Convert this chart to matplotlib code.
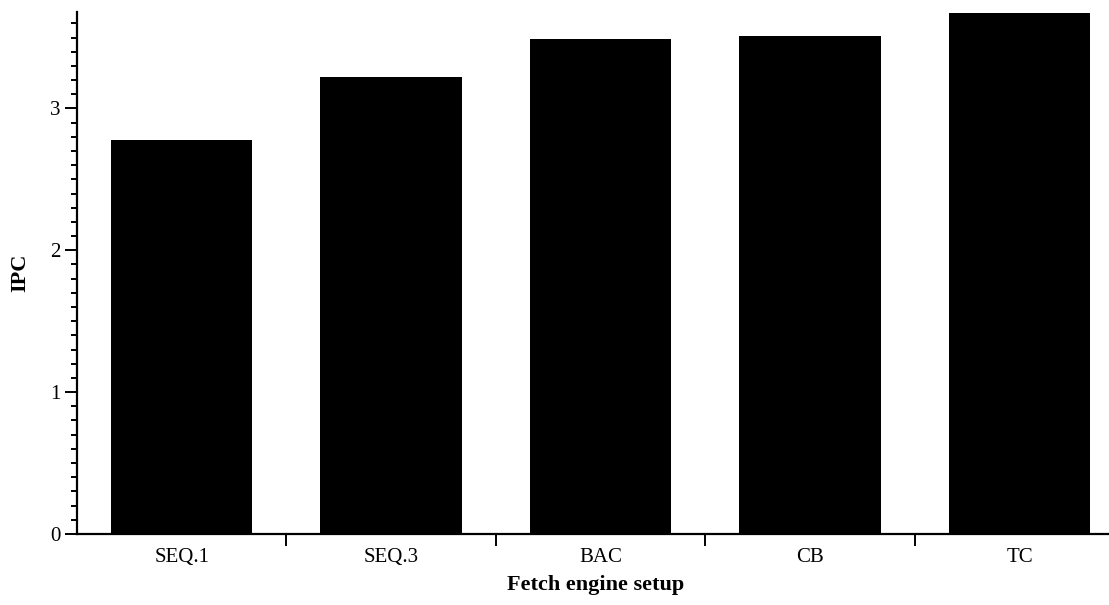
import matplotlib
matplotlib.use("Agg")
import matplotlib.pyplot as plt
from matplotlib.ticker import MultipleLocator, FixedLocator

# data
setups = ["SEQ.1", "SEQ.3", "BAC", "CB", "TC"]
ipc = [2.78, 3.22, 3.49, 3.51, 3.67]

plt.rcParams['font.family'] = ['Liberation Serif', 'DejaVu Serif']

fig = plt.figure(figsize=(11.09, 6.05), dpi=100)
ax = fig.add_axes([0.0694, 0.1174, 0.935, 0.8628])

x = list(range(len(setups)))
ax.bar(x, ipc, width=0.675, color='black')

ax.set_xlim(-0.5, len(setups) - 0.55)
ax.set_ylim(0, 3.68)

ax.spines['top'].set_visible(False)
ax.spines['right'].set_visible(False)
for s in ('left', 'bottom'):
    ax.spines[s].set_linewidth(1.6)

ax.yaxis.set_major_locator(MultipleLocator(1))
ax.yaxis.set_minor_locator(MultipleLocator(0.1))
ax.tick_params(axis='y', which='major', length=8.5, width=1.4, labelsize=15, direction='out')
ax.tick_params(axis='y', which='minor', length=4, width=1.4, direction='out')

ax.set_xticks(x)
ax.set_xticklabels(setups)
ax.xaxis.set_minor_locator(FixedLocator([i + 0.5 for i in x[:-1]]))
ax.tick_params(axis='x', which='major', length=0, labelsize=15, pad=10)
ax.tick_params(axis='x', which='minor', length=8.5, width=1.4, direction='out')

ax.set_xlabel('Fetch engine setup', fontsize=16, fontweight='bold', labelpad=6)
ax.set_ylabel('IPC', fontsize=16, fontweight='bold', labelpad=14)

plt.savefig('out.png', dpi=100)
